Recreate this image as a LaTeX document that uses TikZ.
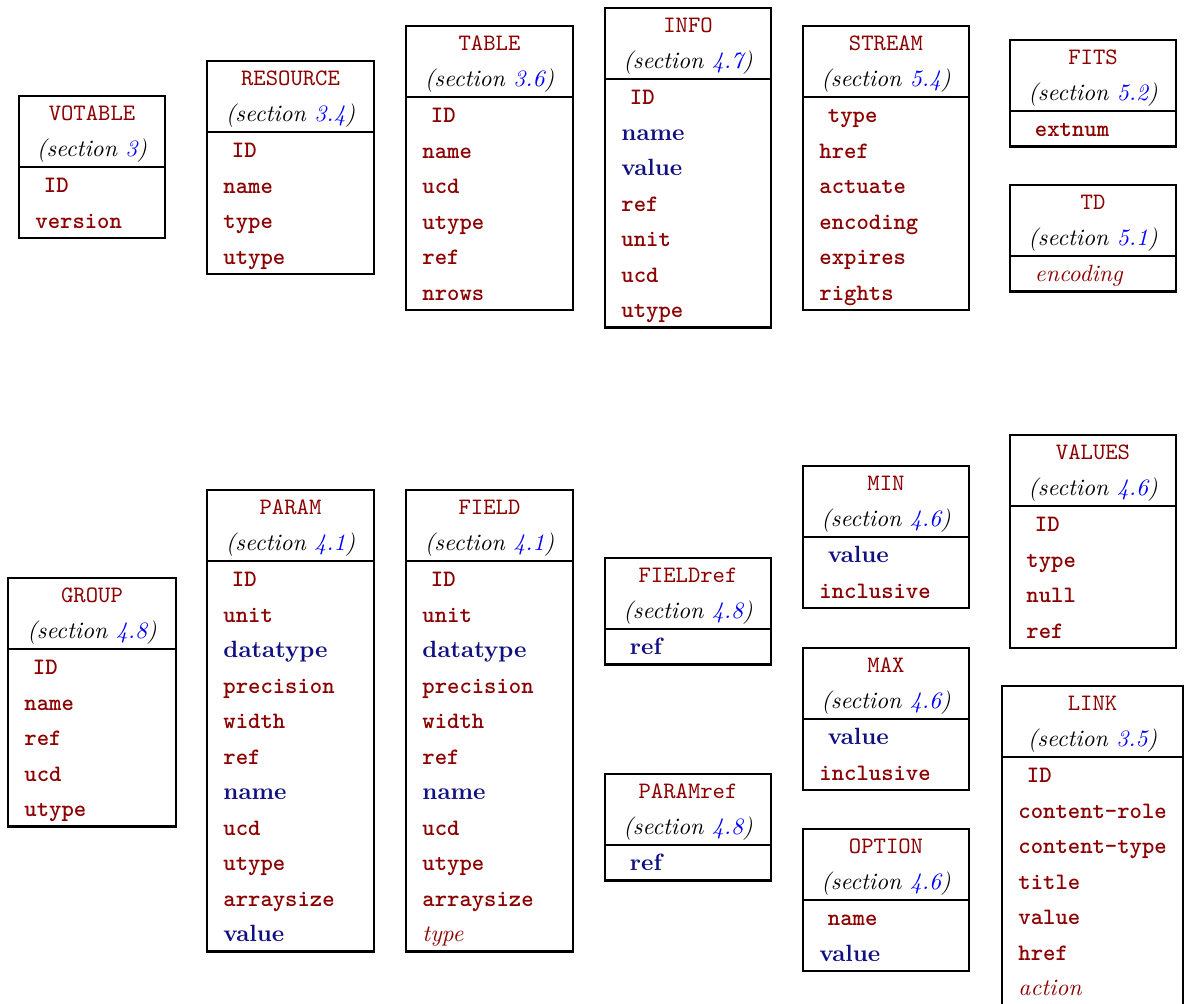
\documentclass[tikz,border=0pt]{standalone}
\usepackage{fontspec}
\usepackage{xcolor}
\definecolor{dred}{RGB}{139,0,0}
\definecolor{dblue}{RGB}{16,16,128}
\newcommand\osn[1]{{\addfontfeatures{Numbers=OldStyle}#1}}
\tikzset{
  boxline/.style={line width=0.9pt},
  hdr/.style={anchor=base, inner sep=0pt, font=\ttfamily, text=dred},
  sec/.style={anchor=base, inner sep=0pt, font=\itshape},
  rowt/.style={anchor=base west, inner sep=0pt, font=\ttfamily\bfseries, text=dred},
  rowb/.style={anchor=base west, inner sep=0pt, font=\bfseries, text=dblue},
  rowi/.style={anchor=base west, inner sep=0pt, font=\itshape, text=dred},
}
\def\rh{35.5}
\newcommand\umlbox[8]{%
  \node[hdr] (#1-title) at ({(#2+#3)/2},{#4+0.5*\rh+7}) {#5};
  \node[sec] (#1-sec) at ({(#2+#3)/2},{#4+1.5*\rh+7}) {(section \textcolor{blue}{\osn{#6}})};
  \foreach [count=\i] \k/\v in {#8} {
    \pgfmathsetmacro\dx{\i==1 ? 24.5 : 16}
    \node[row\k] (#1-r\i) at ({#2+\dx},{#4+(\i+1.5)*\rh+8}) {\v};
  }
  \draw[boxline] (#2,#4) rectangle (#3,{#4+(2+#7)*\rh});
  \draw[boxline] (#2,{#4+2*\rh}) -- (#3,{#4+2*\rh});
}
\begin{document}
\begin{tikzpicture}[x=0.425pt,y=-0.425pt]
\useasboundingbox (0,0) rectangle (1184,1003);
\clip (0,0) rectangle (1184,1003);
\umlbox{votable}{19}{165}{96}{VOTABLE}{3}{2}{t/ID,t/version}
\umlbox{resource}{207}{374}{61}{RESOURCE}{3.4}{4}{t/ID,t/name,t/type,t/utype}
\umlbox{table}{406}{573}{26}{TABLE}{3.6}{6}{t/ID,t/name,t/ucd,t/utype,t/ref,t/nrows}
\umlbox{info}{605}{771}{8}{INFO}{4.7}{7}{t/ID,b/name,b/value,t/ref,t/unit,t/ucd,t/utype}
\umlbox{stream}{803}{969}{26}{STREAM}{5.4}{6}{t/type,t/href,t/actuate,t/encoding,t/expires,t/rights}
\umlbox{fits}{1010}{1176}{40}{FITS}{5.2}{1}{t/extnum}
\umlbox{td}{1010}{1176}{185}{TD}{5.1}{1}{i/encoding}
\umlbox{group}{8}{176}{578}{GROUP}{4.8}{5}{t/ID,t/name,t/ref,t/ucd,t/utype}
\umlbox{param}{207}{374}{490}{PARAM}{4.1}{11}{t/ID,t/unit,b/datatype,t/precision,t/width,t/ref,b/name,t/ucd,t/utype,t/arraysize,b/value}
\umlbox{field}{406}{573}{490}{FIELD}{4.1}{11}{t/ID,t/unit,b/datatype,t/precision,t/width,t/ref,b/name,t/ucd,t/utype,t/arraysize,i/type}
\umlbox{fieldref}{605}{771}{558}{FIELDref}{4.8}{1}{b/ref}
\umlbox{paramref}{605}{771}{774}{PARAMref}{4.8}{1}{b/ref}
\umlbox{min}{803}{969}{466}{MIN}{4.6}{2}{b/value,t/inclusive}
\umlbox{max}{803}{969}{648}{MAX}{4.6}{2}{b/value,t/inclusive}
\umlbox{option}{803}{969}{829}{OPTION}{4.6}{2}{t/name,b/value}
\umlbox{values}{1010}{1176}{435}{VALUES}{4.6}{4}{t/ID,t/type,t/null,t/ref}
\umlbox{link}{1002}{1183}{686}{LINK}{3.5}{7}{t/ID,t/content-role,t/content-type,t/title,t/value,t/href,i/action}
\end{tikzpicture}
\end{document}
